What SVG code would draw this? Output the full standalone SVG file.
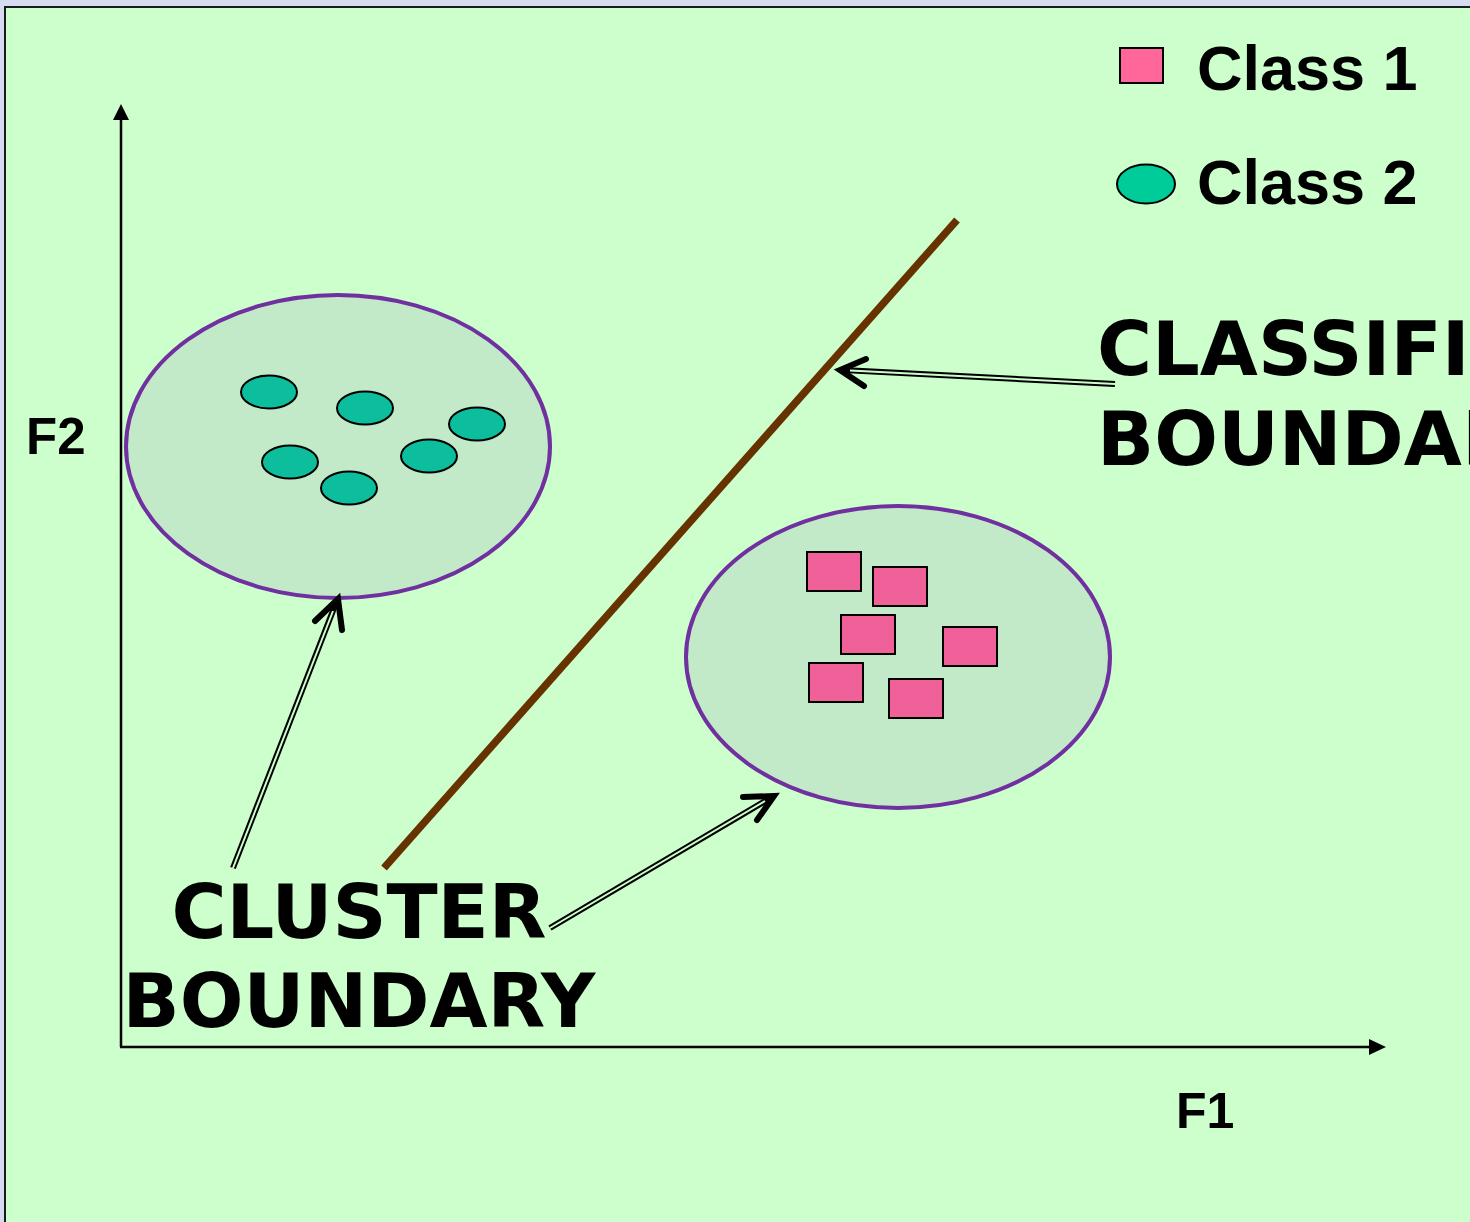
<svg xmlns="http://www.w3.org/2000/svg" width="1470" height="1222" viewBox="0 0 1470 1222">
<defs>
<style>
.lbl{font-family:"Liberation Sans",Arial,sans-serif;font-weight:bold;fill:#000}
.big{font-family:"DejaVu Sans",Verdana,sans-serif;font-weight:bold;font-size:75px;fill:#000}
.cluster{fill:#C2EAC8;stroke:#7030A0;stroke-width:4}
.c2{fill:#0CBE9C;stroke:#000;stroke-width:2}
.c1{fill:#F06199;stroke:#000;stroke-width:2}
.axis{stroke:#000;stroke-width:2.5;fill:none}
.dbl-o{stroke:#000;stroke-width:6;fill:none}
.dbl-i{stroke:#CCFFCC;stroke-width:2;fill:none}
.chev{stroke:#000;stroke-width:6;fill:none;stroke-linecap:round;stroke-linejoin:miter}
</style>
</defs>
<rect x="0" y="0" width="1470" height="1222" fill="#D6DBF2"/>
<rect x="5" y="7" width="1480" height="1230" fill="#CCFFCC" stroke="#1a1a1a" stroke-width="2"/>

<g id="axes">
<line class="axis" x1="121" y1="1047" x2="121" y2="116"/>
<polygon points="121,104 113,120 129,120" fill="#000"/>
<line class="axis" x1="120" y1="1047" x2="1372" y2="1047"/>
<polygon points="1386,1047 1369,1039 1369,1055" fill="#000"/>
<text class="lbl" x="26" y="454" font-size="51">F2</text>
<text class="lbl" x="1176" y="1128" font-size="50">F1</text>
</g>

<g id="legend">
<rect x="1120" y="48" width="43" height="35" fill="#FF6699" stroke="#000" stroke-width="2"/>
<text class="lbl" x="1197" y="90" font-size="63">Class 1</text>
<ellipse cx="1146" cy="184" rx="29" ry="19.5" fill="#00CC99" stroke="#000" stroke-width="2"/>
<text class="lbl" x="1197" y="204" font-size="63">Class 2</text>
</g>

<g id="cluster-class2">
<ellipse class="cluster" cx="338" cy="446.5" rx="212" ry="151.5"/>
<ellipse class="c2" cx="269" cy="392" rx="28" ry="16.5"/>
<ellipse class="c2" cx="365" cy="408" rx="28" ry="16.5"/>
<ellipse class="c2" cx="477" cy="424" rx="28" ry="16.5"/>
<ellipse class="c2" cx="290" cy="462" rx="28" ry="16.5"/>
<ellipse class="c2" cx="429" cy="456" rx="28" ry="16.5"/>
<ellipse class="c2" cx="349" cy="488" rx="28" ry="16.5"/>
</g>

<g id="cluster-class1">
<ellipse class="cluster" cx="898" cy="657" rx="212" ry="151"/>
<rect class="c1" x="807" y="552" width="54" height="39"/>
<rect class="c1" x="873" y="567" width="54" height="39"/>
<rect class="c1" x="841" y="615" width="54" height="39"/>
<rect class="c1" x="943" y="627" width="54" height="39"/>
<rect class="c1" x="809" y="663" width="54" height="39"/>
<rect class="c1" x="889" y="679" width="54" height="39"/>
</g>

<g id="classification-boundary">
<line x1="384" y1="868" x2="957" y2="220" stroke="#663300" stroke-width="7.5"/>
</g>

<g id="label-cluster-boundary">
<text class="big" x="359" y="938" text-anchor="middle">CLUSTER</text>
<text class="big" x="359" y="1027" text-anchor="middle">BOUNDARY</text>
</g>

<g id="label-classification-boundary">
<text class="big" x="1097" y="375">CLASSIFICATION</text>
<text class="big" x="1097" y="465">BOUNDARY</text>
</g>

<g id="connectors">
<line class="dbl-o" x1="233" y1="868" x2="336" y2="603"/>
<line class="dbl-i" x1="233" y1="868" x2="333" y2="611"/>
<polyline class="chev" points="315,621 338,599 342,630"/>

<line class="dbl-o" x1="550" y1="928" x2="772" y2="797"/>
<line class="dbl-i" x1="550" y1="928" x2="765" y2="801"/>
<polyline class="chev" points="743,797 774,796 757,820"/>

<line class="dbl-o" x1="1115" y1="384" x2="843" y2="370"/>
<line class="dbl-i" x1="1115" y1="384" x2="850" y2="370.5"/>
<polyline class="chev" points="866,359 840,370 864,386"/>
</g>
</svg>
